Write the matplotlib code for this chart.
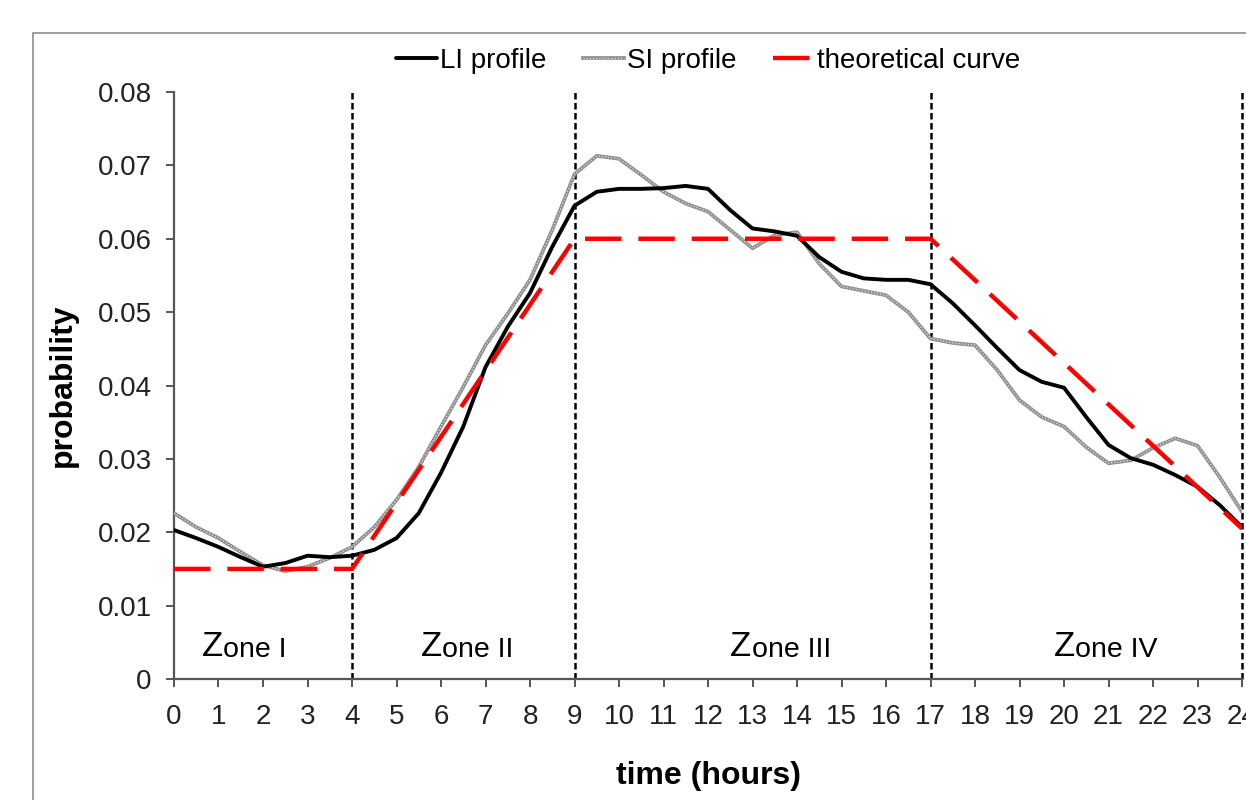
import numpy as np
import matplotlib
matplotlib.use("Agg")
import matplotlib.pyplot as plt
from matplotlib.patches import Rectangle

plt.rcParams['font.family'] = ['Liberation Sans', 'DejaVu Sans']

# --- data (half-hour steps) ---
hours = np.arange(0, 24.5, 0.5)

li_profile = [0.0203, 0.0192, 0.0180, 0.0166, 0.0153, 0.0158, 0.0168, 0.0166,
              0.0168, 0.0176, 0.0192, 0.0226, 0.0281, 0.0344, 0.0425, 0.0480,
              0.0526, 0.0589, 0.0645, 0.0664, 0.0668, 0.0668, 0.0669, 0.0672,
              0.0668, 0.0639, 0.0614, 0.0610, 0.0604, 0.0575, 0.0555, 0.0546,
              0.0544, 0.0544, 0.0538, 0.0512, 0.0482, 0.0451, 0.0421, 0.0405,
              0.0397, 0.0357, 0.0319, 0.0301, 0.0292, 0.0278, 0.0262, 0.0237,
              0.0207]

si_profile = [0.0226, 0.0207, 0.0192, 0.0173, 0.0155, 0.0147, 0.0153, 0.0165,
              0.0180, 0.0207, 0.0244, 0.0289, 0.0344, 0.0398, 0.0455, 0.0498,
              0.0544, 0.0612, 0.0688, 0.0713, 0.0709, 0.0687, 0.0664, 0.0648,
              0.0637, 0.0612, 0.0587, 0.0605, 0.0609, 0.0566, 0.0535, 0.0529,
              0.0523, 0.0500, 0.0464, 0.0458, 0.0455, 0.0421, 0.0380, 0.0357,
              0.0344, 0.0316, 0.0294, 0.0298, 0.0315, 0.0328, 0.0318, 0.0275,
              0.0228]

theory_x = [0, 4, 9, 17, 24]
theory_y = [0.015, 0.015, 0.06, 0.06, 0.0205]

zone_bounds = [4, 9, 17, 24]
zone_names = ['I', 'II', 'III', 'IV']
zone_left = [0.62, 5.55, 12.5, 19.78]

yticks = [0, 0.01, 0.02, 0.03, 0.04, 0.05, 0.06, 0.07, 0.08]
ytick_labels = ['0', '0.01', '0.02', '0.03', '0.04', '0.05', '0.06', '0.07', '0.08']
xticks = list(range(0, 25))

# --- figure ---
fig = plt.figure(figsize=(12.46, 8.0), dpi=100)
ax = fig.add_axes([174 / 1246, 1 - 679 / 800, (1242 - 174) / 1246, (679 - 92) / 800])

# frame around the chart (cut off at right and bottom like the reference)
fig.patches.append(Rectangle((33 / 1246, -0.1), 1.2, 1 - 33 / 800 + 0.1,
                             transform=fig.transFigure, fill=False,
                             edgecolor='#8c8c8c', linewidth=1.2))

# zone separators
for b in zone_bounds:
    ax.plot([b, b], [0, 0.08], color='black', lw=1.8, ls=(0, (2.6, 1.4)),
            clip_on=False, zorder=2)

li_line, = ax.plot(hours, li_profile, color='black', lw=2.8, zorder=4,
                   solid_joinstyle='round', solid_capstyle='round')
si_base, = ax.plot(hours, si_profile, color='#8f8f8f', lw=2.7, zorder=3,
                   solid_joinstyle='round')
si_dots, = ax.plot(hours, si_profile, color='#e2e2e2', lw=0.9, ls=(0, (1, 1.5)),
                   zorder=3)
theo_line, = ax.plot(theory_x, theory_y, color='#ff0000', lw=3.2,
                     ls=(0, (8.2, 3.8)), zorder=5)

# zone labels, bigger "Z"
for name, xl in zip(zone_names, zone_left):
    z = ax.text(xl, 0.0031, 'Z', fontsize=25, va='baseline', ha='left')
    ax.annotate('one ' + name, xy=(1, 0), xycoords=z, fontsize=20.5,
                va='bottom', ha='left')

ax.set_xlim(0, 24)
ax.set_ylim(0, 0.08)
ax.set_xticks(xticks)
ax.set_xticklabels([str(t) for t in xticks])
ax.set_yticks(yticks)
ax.set_yticklabels(ytick_labels)

for side in ['top', 'right']:
    ax.spines[side].set_visible(False)
for side in ['left', 'bottom']:
    ax.spines[side].set_color('#555555')
    ax.spines[side].set_linewidth(1.6)

ax.tick_params(axis='both', direction='out', length=6, width=1.4,
               color='#555555', labelsize=20, labelcolor='#222222')
ax.tick_params(axis='x', pad=12)
ax.tick_params(axis='y', pad=10)

ax.set_xlabel('time (hours)', fontsize=23, fontweight='bold', labelpad=22)
ax.set_ylabel('probability', fontsize=23, fontweight='bold', labelpad=14)

ax.legend([li_line, (si_base, si_dots), theo_line],
          ['LI profile', 'SI profile', 'theoretical curve'],
          loc='lower center', bbox_to_anchor=(0.5, 1.0), ncol=3, frameon=False,
          fontsize=20, handlelength=1.5, handletextpad=0.1, columnspacing=1.3,
          borderaxespad=0.25)

fig.savefig('out.png', dpi=100)
